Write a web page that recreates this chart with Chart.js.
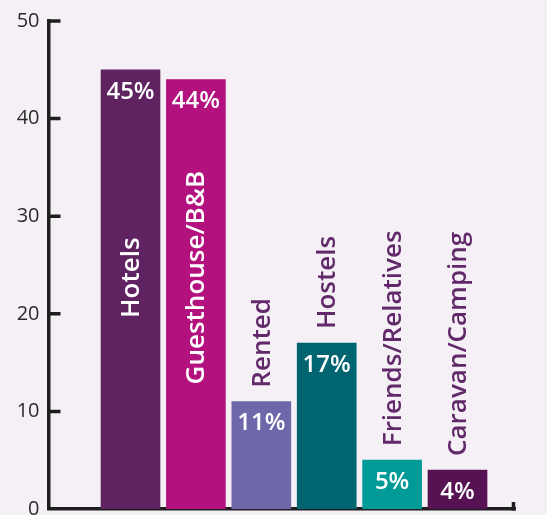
<!DOCTYPE html>
<html>
<head>
<meta charset="utf-8">
<title>Accommodation type</title>
<script src="https://cdn.jsdelivr.net/npm/chart.js@4"></script>
<style>
  html, body { margin: 0; padding: 0; background: #f4f0f5; overflow: hidden; }
  #wrap { width: 547px; height: 515px; overflow: hidden; }
</style>
</head>
<body>
<div id="wrap">
  <canvas id="stay-chart" width="547" height="530"></canvas>
</div>
<script>
// Chart data
const categories = ['Hotels', 'Guesthouse/B&B', 'Rented', 'Hostels', 'Friends/Relatives', 'Caravan/Camping'];
const shares = [45, 44, 11, 17, 5, 4];
const yTicks = [0, 10, 20, 30, 40, 50];

const barColors = ['#5e2360', '#b3117e', '#6e68aa', '#006571', '#009a97', '#571253'];
const AXIS_COLOR = '#1e1e1e';
const OUTSIDE_LABEL_COLOR = '#62296a';
const FONT = '"Open Sans", "DejaVu Sans", sans-serif';

/**
 * Draws the inward tick marks on the y axis and the end tick on the x axis
 */
const axisTicks = {
  id: 'axisTicks',
  afterDraw(chart) {
    const { ctx, chartArea, scales } = chart;
    const y = scales.y;
    ctx.save();
    ctx.strokeStyle = AXIS_COLOR;
    ctx.lineWidth = 3.5;
    ctx.beginPath();
    yTicks.forEach(v => {
      if (v === 0) return;
      const py = y.getPixelForValue(v);
      ctx.moveTo(chartArea.left, py);
      ctx.lineTo(chartArea.left + 12, py);
    });
    // little upward tick closing the x axis
    ctx.moveTo(chartArea.right - 1.5, chartArea.bottom + 1.5);
    ctx.lineTo(chartArea.right - 1.5, chartArea.bottom - 7);
    ctx.stroke();
    ctx.restore();
  }
};

/**
 * Draws the percentage and the rotated category name on every bar
 */
const barLabels = {
  id: 'barLabels',
  afterDatasetsDraw(chart) {
    const { ctx, scales } = chart;
    const meta = chart.getDatasetMeta(0);
    ctx.save();
    meta.data.forEach((bar, i) => {
      // percentage inside top of bar
      ctx.fillStyle = '#ffffff';
      ctx.font = `600 24px ${FONT}`;
      ctx.textAlign = 'center';
      ctx.textBaseline = 'middle';
      ctx.fillText(shares[i] + '%', bar.x, bar.y + 22);

      // category name, rotated
      const inside = shares[i] >= 30;
      ctx.save();
      ctx.font = `600 26px ${FONT}`;
      ctx.textBaseline = 'middle';
      if (inside) {
        ctx.translate(bar.x + 1, scales.y.getPixelForValue(23.7));
        ctx.rotate(-Math.PI / 2);
        ctx.textAlign = 'center';
        ctx.fillStyle = '#ffffff';
      } else {
        ctx.translate(bar.x + 1, bar.y - 14);
        ctx.rotate(-Math.PI / 2);
        ctx.textAlign = 'left';
        ctx.fillStyle = OUTSIDE_LABEL_COLOR;
      }
      ctx.fillText(categories[i], 0, 0);
      ctx.restore();
    });
    ctx.restore();
  }
};

const canvas = document.getElementById('stay-chart');

new Chart(canvas, {
  type: 'bar',
  data: {
    labels: categories,
    datasets: [{
      label: 'Share of nights',
      data: shares.map((v, i) => ({ x: i, y: v })),
      backgroundColor: barColors,
      borderWidth: 0,
      barThickness: 59
    }]
  },
  options: {
    responsive: false,
    animation: false,
    layout: {
      padding: { top: 19.5, right: 32, bottom: 15, left: 0 }
    },
    plugins: {
      legend: { display: false },
      tooltip: { enabled: false }
    },
    scales: {
      x: {
        type: 'linear',
        offset: false,
        min: -1.254,
        max: 5.879,
        grid: { display: false, drawTicks: false },
        ticks: { display: false },
        border: { display: true, color: AXIS_COLOR, width: 3.5 },
        afterFit: (scale) => { scale.height = 5.5; }
      },
      y: {
        min: 0,
        max: 50,
        grid: { display: false, drawTicks: false },
        border: { display: true, color: AXIS_COLOR, width: 3.5 },
        ticks: {
          stepSize: 10,
          padding: 9,
          color: '#2b2b2b',
          font: { family: FONT, size: 20 }
        },
        afterBuildTicks: (scale) => {
          scale.ticks = yTicks.map(v => ({ value: v }));
        },
        afterFit: (scale) => { scale.width = 48.5; }
      }
    }
  },
  plugins: [axisTicks, barLabels]
});
</script>
</body>
</html>
